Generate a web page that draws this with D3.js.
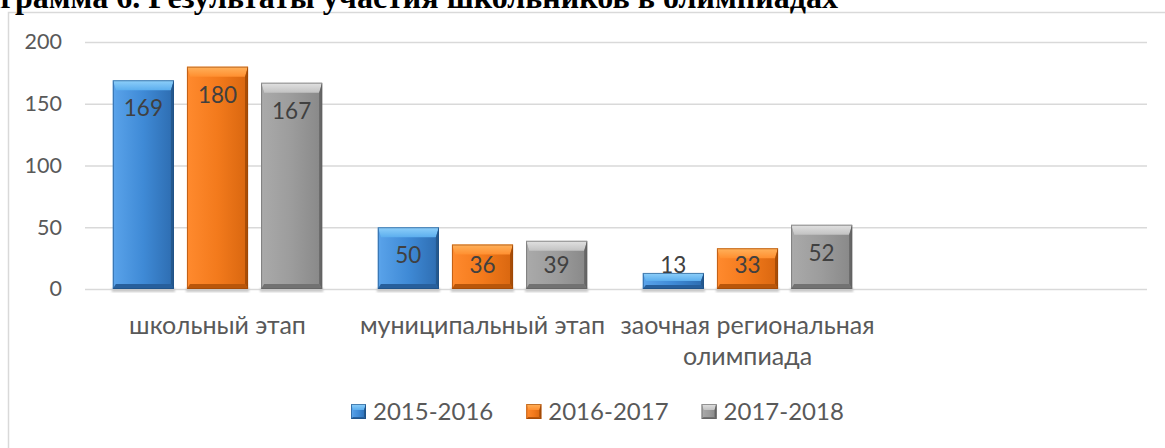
<!DOCTYPE html>
<html lang="ru">
<head>
    <meta charset="UTF-8">
    <title>Результаты участия школьников в олимпиадах</title>
    <style>
        body { margin: 0; background: #fff; overflow: hidden; }
        svg { display: block; }
    </style>
</head>
<body>
    <div id="content"></div>

    <script src="https://cdn.jsdelivr.net/npm/d3@7/dist/d3.min.js"></script>
    <script>
        // data
        const title = "Диаграмма 6. Результаты участия школьников в олимпиадах";
        const titleVisible = "грамма 6. Результаты участия школьников в олимпиадах";
        const categories = [["школьный этап"], ["муниципальный этап"], ["заочная региональная", "олимпиада"], []];
        const seriesNames = ["2015-2016", "2016-2017", "2017-2018"];
        const values2015 = [169, 50, 13, null];
        const values2016 = [180, 36, 33, null];
        const values2017 = [167, 39, 52, null];
        const yTicks = [0, 50, 100, 150, 200];

        const allSeries = [values2015, values2016, values2017];

        // bevel palettes, one per series
        const palettes = [
            {light: "#5aa3ea", mid: "#3f8ad6", dark: "#2d6cb0", top1: "#8fd0fa", top2: "#5caeee", side: "#24598f", bottom: "#275f9c", line: "#1d4d80"},
            {light: "#ff8a2e", mid: "#f37a1c", dark: "#d8660f", top1: "#ffb25c", top2: "#ff8f30", side: "#a84d07", bottom: "#b9560a", line: "#9a4606"},
            {light: "#aaaaaa", mid: "#9c9c9c", dark: "#888888", top1: "#e2e2e2", top2: "#c2c2c2", side: "#666666", bottom: "#727272", line: "#5f5f5f"}
        ];

        const W = 1165, H = 448;
        const font = "Lato, 'Open Sans', sans-serif";

        const svg = d3.select("#content")
            .append("svg")
            .attr("width", W)
            .attr("height", H);

        const defs = svg.append("defs");
        palettes.forEach((p, i) => {
            const g = defs.append("linearGradient").attr("id", "body" + i)
                .attr("x1", 0).attr("x2", 1).attr("y1", 0).attr("y2", 0);
            g.append("stop").attr("offset", 0).attr("stop-color", p.light);
            g.append("stop").attr("offset", 0.5).attr("stop-color", p.mid);
            g.append("stop").attr("offset", 1).attr("stop-color", p.dark);
            const t = defs.append("linearGradient").attr("id", "top" + i)
                .attr("x1", 0).attr("x2", 0).attr("y1", 0).attr("y2", 1);
            t.append("stop").attr("offset", 0).attr("stop-color", p.top1);
            t.append("stop").attr("offset", 1).attr("stop-color", p.top2);
        });
        const blur = defs.append("filter").attr("id", "shadow");
        blur.append("feGaussianBlur").attr("stdDeviation", 1.2);

        // chart frame
        svg.append("rect")
            .attr("x", 8.5).attr("y", 12.5)
            .attr("width", W + 20).attr("height", H + 20)
            .attr("fill", "#fff")
            .attr("stroke", "#d9d9d9")
            .attr("stroke-width", 1.5);

        // title, cut off by the top and left edge like in the picture
        const titleText = svg.append("text")
            .attr("font-family", "'Liberation Serif', 'Times New Roman', serif")
            .attr("font-weight", "bold")
            .attr("font-size", 100)
            .attr("fill", "#000")
            .text(titleVisible);
        const k = 838 / titleText.node().getComputedTextLength();
        titleText.text(title)
            .attr("font-size", 100 * k)
            .attr("text-anchor", "end")
            .attr("x", 838)
            .attr("y", 8);

        // scales
        const x0 = d3.scaleBand()
            .domain(d3.range(categories.length))
            .range([85, 1145])
            .paddingInner(0.21)
            .paddingOuter(0.105);

        const x1 = d3.scaleBand()
            .domain(d3.range(seriesNames.length))
            .range([0, x0.bandwidth()])
            .paddingInner(0.176);

        const y = d3.scaleLinear()
            .domain([0, 200])
            .range([289, 42]);

        // gridlines + y labels
        const yAxis = d3.axisLeft(y)
            .tickValues(yTicks)
            .tickSize(-(1147 - 85))
            .tickPadding(23);

        const gy = svg.append("g")
            .attr("transform", "translate(85,0)")
            .call(yAxis);
        gy.select(".domain").remove();
        gy.selectAll(".tick line")
            .attr("stroke", "#d9d9d9")
            .attr("stroke-width", 1.5);
        gy.selectAll(".tick text")
            .attr("font-family", font)
            .attr("font-size", 21.5)
            .attr("fill", "#595959");

        // bar drawing with a bevel
        function bevelBar(g, w, h, i, sizes) {
            const p = palettes[i];
            const bt = Math.min(sizes.top, h * 0.5);
            const bs = Math.min(sizes.side, w * 0.2);
            const bb = Math.min(sizes.bottom, h * 0.25);
            g.append("rect")
                .attr("width", w).attr("height", h)
                .attr("fill", `url(#body${i})`);
            g.append("polygon")
                .attr("points", [[0, 0], [w, 0], [w - bs, bt], [bs, bt]].join(" "))
                .attr("fill", `url(#top${i})`);
            g.append("polygon")
                .attr("points", [[0, 0], [bs, bt], [bs, h - bb], [0, h]].join(" "))
                .attr("fill", p.light)
                .attr("opacity", 0.8);
            g.append("polygon")
                .attr("points", [[w, 0], [w, h], [w - bs, h - bb], [w - bs, bt]].join(" "))
                .attr("fill", p.side);
            g.append("polygon")
                .attr("points", [[0, h], [bs, h - bb], [w - bs, h - bb], [w, h]].join(" "))
                .attr("fill", p.bottom);
            g.append("rect")
                .attr("x", 0.5).attr("y", 0.5)
                .attr("width", w - 1).attr("height", Math.max(h - 1, 0))
                .attr("fill", "none")
                .attr("stroke", p.line)
                .attr("stroke-opacity", 0.6)
                .attr("stroke-width", 1);
        }

        const barData = [];
        categories.forEach((c, ci) => {
            allSeries.forEach((vals, si) => {
                if (vals[ci] != null) barData.push({ci, si, value: vals[ci]});
            });
        });

        const bars = svg.append("g").selectAll("g.bar")
            .data(barData)
            .join("g")
            .classed("bar", true)
            .attr("transform", (d) => `translate(${x0(d.ci) + x1(d.si)}, ${y(d.value)})`);

        // soft shadow under the bars
        bars.append("rect")
            .attr("x", -1)
            .attr("y", (d) => y(0) - y(d.value) - 1)
            .attr("width", x1.bandwidth() + 2)
            .attr("height", 4)
            .attr("fill", "#c8c8c8")
            .attr("filter", "url(#shadow)");

        bars.each(function (d) {
            bevelBar(d3.select(this), x1.bandwidth(), y(0) - y(d.value), d.si, {top: 10, side: 3, bottom: 5});
        });

        // value labels
        svg.append("g").selectAll("text")
            .data(barData)
            .join("text")
            .attr("x", (d) => x0(d.ci) + x1(d.si) + x1.bandwidth() / 2)
            .attr("y", (d) => Math.min(y(d.value) + 28, y(0) - 24))
            .attr("dy", "0.35em")
            .attr("text-anchor", "middle")
            .attr("font-family", font)
            .attr("font-size", 22.5)
            .attr("fill", "#404040")
            .text((d) => d.value);

        // category labels
        const catLabels = svg.append("g").selectAll("text")
            .data(categories)
            .join("text")
            .attr("x", (d, i) => x0(i) + x0.bandwidth() / 2)
            .attr("y", 334)
            .attr("text-anchor", "middle")
            .attr("font-family", font)
            .attr("font-size", 25)
            .attr("fill", "#595959");
        catLabels.selectAll("tspan")
            .data((d) => d)
            .join("tspan")
            .attr("x", function () { return d3.select(this.parentNode).attr("x"); })
            .attr("dy", (d, i) => i === 0 ? 0 : 31)
            .text((d) => d);

        // legend
        const legend = svg.append("g")
            .attr("transform", "translate(351, 404)");
        let lx = 0;
        seriesNames.forEach((name, i) => {
            const item = legend.append("g").attr("transform", `translate(${lx}, 0)`);
            bevelBar(item.append("g"), 15, 15, i, {top: 6, side: 2, bottom: 2});
            const t = item.append("text")
                .attr("x", 22)
                .attr("y", 7.5)
                .attr("dy", "0.35em")
                .attr("font-family", font)
                .attr("font-size", 24)
                .attr("fill", "#595959")
                .text(name);
            lx += 22 + t.node().getComputedTextLength() + 33;
        });
    </script>
</body>
</html>
